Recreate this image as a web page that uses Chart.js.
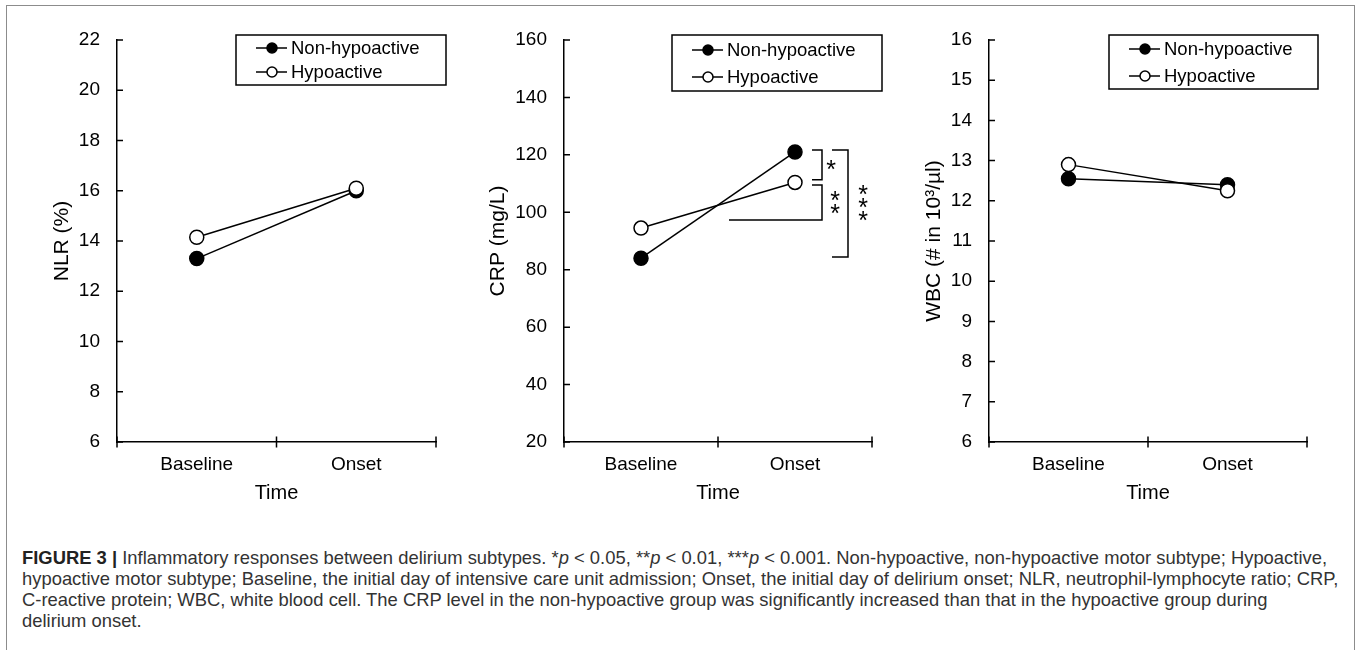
<!doctype html>
<html>
<head>
<meta charset="utf-8">
<title>Inflammatory responses between delirium subtypes</title>
<script src="https://cdn.jsdelivr.net/npm/chart.js@4.4.1/dist/chart.umd.min.js"></script>
<style>
	html, body { margin: 0; padding: 0; background: #fff; }
	body { width: 1357px; height: 650px; position: relative; overflow: hidden; font-family: "Liberation Sans", Arial, sans-serif; }
	#frame { position: absolute; left: 6px; top: 5px; width: 1347px; height: 700px; border: 1.5px solid #8c8c8c; border-bottom: none; }
	.panel { position: absolute; top: 0; height: 510px; }
	#caption { position: absolute; left: 22px; top: 547px; font-size: 18.4px; line-height: 21px; color: #333; white-space: nowrap; }
	#caption b { color: #222; }
</style>
</head>
<body>
	<div id="frame"></div>
	<div class="panel" style="left:10px;width:445px"><canvas id="nlr"></canvas></div>
	<div class="panel" style="left:460px;width:440px"><canvas id="crp"></canvas></div>
	<div class="panel" style="left:900px;width:450px"><canvas id="wbc"></canvas></div>
	<div id="caption"><b>FIGURE 3 |</b> Inflammatory responses between delirium subtypes. *<i>p</i> &lt; 0.05, **<i>p</i> &lt; 0.01, ***<i>p</i> &lt; 0.001. Non-hypoactive, non-hypoactive motor subtype; Hypoactive,<br>hypoactive motor subtype; Baseline, the initial day of intensive care unit admission; Onset, the initial day of delirium onset; NLR, neutrophil-lymphocyte ratio; CRP,<br>C-reactive protein; WBC, white blood cell. The CRP level in the non-hypoactive group was significantly increased than that in the hypoactive group during<br>delirium onset.</div>

	<script>
		const timePoints = ['Baseline', 'Onset'];
		const groupNames = ['Non-hypoactive', 'Hypoactive'];

		const nlrNonHypo = [13.3, 16.0];
		const nlrHypo = [14.15, 16.1];
		const crpNonHypo = [84, 121];
		const crpHypo = [94.5, 110.4];
		const wbcNonHypo = [12.55, 12.4];
		const wbcHypo = [12.9, 12.25];

		// significance brackets on CRP at onset, in mg/L
		const crpBrackets = [
			{ label: '*', top: 121.7, bottom: 111.3 },
			{ label: '**', top: 109.5, bottom: 97.3 },
			{ label: '***', top: 121.7, bottom: 84.4 }
		];

		const INK = '#000';
		const FONT = '"Liberation Sans", Arial, sans-serif';

		const axisMarks = {
			id: 'axisMarks',
			afterDraw(chart) {
				const { ctx, chartArea: area, scales: { x, y } } = chart;
				ctx.save();
				ctx.strokeStyle = INK;
				ctx.lineWidth = 1.5;
				ctx.beginPath();
				y.ticks.forEach((t, i) => {
					const py = y.getPixelForTick(i);
					ctx.moveTo(area.left, py);
					ctx.lineTo(area.left + 6, py);
				});
				const edges = [area.left, area.right];
				for (let i = 1; i < x.ticks.length; i++) {
					edges.push((x.getPixelForTick(i - 1) + x.getPixelForTick(i)) / 2);
				}
				edges.forEach(px => {
					ctx.moveTo(px, area.bottom - 5.5);
					ctx.lineTo(px, area.bottom + 5.5);
				});
				ctx.stroke();
				ctx.restore();
			}
		};

		const boxLegend = {
			id: 'boxLegend',
			afterDraw(chart, args, opts) {
				if (!opts || opts.w === undefined) return;
				const { ctx } = chart;
				ctx.save();
				ctx.strokeStyle = INK;
				ctx.lineWidth = 1.5;
				ctx.strokeRect(opts.x, opts.y, opts.w, opts.h);
				chart.data.datasets.forEach((ds, i) => {
					const cy = opts.y + opts.rows[i];
					ctx.beginPath();
					ctx.moveTo(opts.x + 20, cy);
					ctx.lineTo(opts.x + 51, cy);
					ctx.stroke();
					ctx.beginPath();
					ctx.arc(opts.x + 36, cy, 5, 0, Math.PI * 2);
					ctx.fillStyle = ds.pointBackgroundColor;
					ctx.fill();
					ctx.stroke();
					ctx.fillStyle = INK;
					ctx.font = '18.5px ' + FONT;
					ctx.textBaseline = 'middle';
					ctx.fillText(ds.label, opts.x + 55, cy + 1);
				});
				ctx.restore();
			}
		};

		const sigMarks = {
			id: 'sigMarks',
			afterDraw(chart, args, opts) {
				if (!opts || !opts.items) return;
				const { ctx, scales: { x, y } } = chart;
				const cx = x.getPixelForValue(opts.at);
				ctx.save();
				ctx.strokeStyle = INK;
				ctx.fillStyle = INK;
				ctx.lineWidth = 1.5;
				ctx.font = '25px ' + FONT;
				const m = ctx.measureText('*');
				const glyphMid = (m.actualBoundingBoxAscent - m.actualBoundingBoxDescent) / 2;
				opts.items.forEach((b, i) => {
					const g = opts.layout[i];
					const yt = y.getPixelForValue(b.top);
					const yb = y.getPixelForValue(b.bottom);
					ctx.beginPath();
					ctx.moveTo(cx + g.topArm, yt);
					ctx.lineTo(cx + g.bar, yt);
					ctx.lineTo(cx + g.bar, yb);
					ctx.lineTo(cx + g.bottomArm, yb);
					ctx.stroke();
					const n = b.label.length;
					const mid = (yt + yb) / 2 + g.shift;
					ctx.textAlign = 'center';
					ctx.textBaseline = 'alphabetic';
					for (let k = 0; k < n; k++) {
						const sy = mid + (k - (n - 1) / 2) * 13;
						ctx.fillText('*', cx + g.text, sy + glyphMid);
					}
				});
				ctx.restore();
			}
		};

		function makeChart(id, title, nonHypo, hypo, min, max, step, fit, legend, sig) {
			const datasets = [
				{
					label: groupNames[0], data: nonHypo, order: 1,
					pointBackgroundColor: '#000'
				},
				{
					label: groupNames[1], data: hypo, order: 0,
					pointBackgroundColor: '#fff'
				}
			].map(d => Object.assign({
				borderColor: INK, borderWidth: 1.5,
				pointBorderColor: INK, pointBorderWidth: 1.5,
				pointRadius: 7, pointHoverRadius: 7, fill: false, tension: 0
			}, d));

			return new Chart(document.getElementById(id), {
				type: 'line',
				data: { labels: timePoints, datasets },
				options: {
					responsive: true,
					maintainAspectRatio: false,
					animation: false,
					layout: { padding: { left: 0, top: 40, right: fit.right, bottom: 0 } },
					plugins: {
						legend: { display: false },
						tooltip: { enabled: false },
						boxLegend: legend,
						sigMarks: sig || {}
					},
					scales: {
						x: {
							offset: true,
							grid: { display: false, drawTicks: false },
							border: { display: true, color: INK, width: 1.5 },
							ticks: { color: INK, font: { family: FONT, size: 19 }, padding: 11 },
							title: { display: true, text: 'Time', color: INK, font: { family: FONT, size: 20 }, padding: { top: 0, bottom: 5 } },
							afterFit(s) { s.height = 68; }
						},
						y: {
							min, max,
							grid: { display: false, drawTicks: false },
							border: { display: true, color: INK, width: 1.5 },
							ticks: { stepSize: step, color: INK, font: { family: FONT, size: 19 }, padding: 17 },
							title: { display: true, text: title, color: INK, font: { family: FONT, size: 21 }, padding: { top: fit.titlePad, bottom: 0 } },
							afterFit(s) { s.width = fit.yWidth; }
						}
					}
				},
				plugins: [axisMarks, boxLegend, sigMarks]
			});
		}

		makeChart('nlr', 'NLR (%)', nlrNonHypo, nlrHypo, 6, 22, 2,
			{ yWidth: 107, right: 19, titlePad: 40 },
			{ x: 226, y: 35, w: 210, h: 50, rows: [13, 37] });

		makeChart('crp', 'CRP (mg/L)', crpNonHypo, crpHypo, 20, 160, 20,
			{ yWidth: 104, right: 28, titlePad: 26 },
			{ x: 212, y: 35, w: 210, h: 56, rows: [15, 42] },
			{
				at: 'Onset',
				items: crpBrackets,
				layout: [
					{ topArm: 17, bottomArm: 17, bar: 27, text: 36, shift: 0 },
					{ topArm: 17, bottomArm: -66, bar: 27, text: 40, shift: 0 },
					{ topArm: 37, bottomArm: 37, bar: 53, text: 68, shift: -1 }
				]
			});

		makeChart('wbc', 'WBC (# in 10³/µl)', wbcNonHypo, wbcHypo, 6, 16, 1,
			{ yWidth: 89, right: 43, titlePad: 22 },
			{ x: 209, y: 35, w: 209, h: 54, rows: [14, 41] });
	</script>
</body>
</html>
